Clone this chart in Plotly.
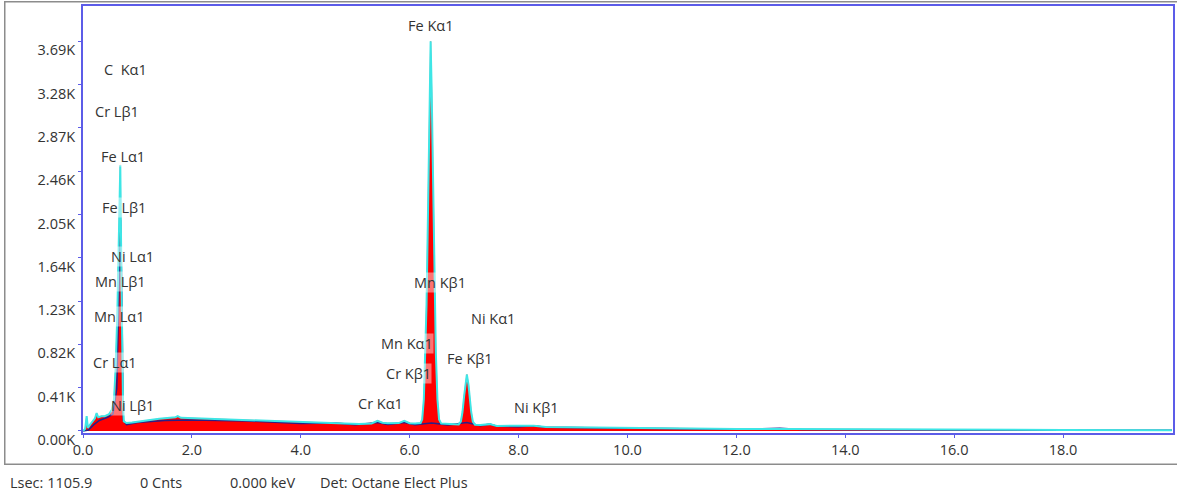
import plotly.graph_objects as go

# ---- spectrum 1 (red fill / cyan outline) ----
energy_keV = [0.00, 0.04, 0.067, 0.09, 0.13, 0.18, 0.22, 0.25, 0.28, 0.34, 0.40, 0.48, 0.53, 0.57,
              0.60, 0.63, 0.655, 0.685, 0.705, 0.72, 0.735, 0.75, 0.80, 0.90, 1.15, 1.40, 1.70,
              1.74, 1.80, 2.07, 2.50, 2.99, 3.50, 4.20, 4.64, 5.07, 5.30, 5.41, 5.50, 5.60, 5.80,
              5.90, 6.00, 6.10, 6.20, 6.23, 6.26, 6.29, 6.31, 6.33, 6.35, 6.365, 6.385, 6.405,
              6.42, 6.44, 6.46, 6.48, 6.51, 6.54, 6.58, 6.70, 6.90, 6.94, 6.97, 7.00, 7.02, 7.05,
              7.08, 7.10, 7.13, 7.16, 7.20, 7.30, 7.47, 7.60, 8.00, 8.28, 8.50, 9.00, 10.0, 11.0,
              12.0, 13.0, 14.0, 16.0, 18.0, 20.0]
counts = [0, 20, 140, 30, 60, 90, 120, 170, 130, 140, 140, 160, 200, 300,
          600, 1100, 1700, 2520, 1500, 700, 250, 90, 75, 80, 100, 115, 130,
          140, 125, 120, 112, 104, 95, 80, 78, 66, 72, 97, 78, 73, 75,
          97, 74, 70, 75, 110, 300, 750, 1200, 1850, 2600, 3200, 3690, 3200,
          2600, 1850, 1200, 750, 300, 110, 70, 66, 62, 90, 180, 330, 440, 535,
          440, 330, 180, 90, 60, 57, 65, 48, 45, 50, 38, 35, 30, 25,
          20, 18, 15, 12, 10, 8]

# ---- spectrum 2 (dark navy line) ----
energy2_keV = [0.0, 0.1, 0.2, 0.3, 0.45, 0.55, 0.62, 0.66, 0.69, 0.71, 0.725, 0.74, 0.80, 1.0,
               1.5, 2.0, 3.0, 4.0, 4.64, 5.0, 5.41, 5.6, 5.9, 6.1, 6.4, 6.7, 7.05, 7.3, 7.47,
               7.6, 8.0, 8.28, 8.5, 9.0, 10.0, 12.0, 12.8, 13.2, 14.0, 16.0, 18.0, 20.0]
counts2 = [0, 10, 60, 100, 130, 160, 400, 1200, 2000, 1400, 500, 100, 60, 80,
           100, 105, 95, 72, 75, 60, 80, 62, 80, 60, 75, 58, 80, 50, 65,
           45, 40, 50, 35, 30, 25, 17, 25, 15, 12, 10, 8, 6]

# ---- line labels ----
line_labels = ["Fe Kα1", "C  Kα1", "Cr Lβ1", "Fe Lα1", "Fe Lβ1", "Ni Lα1", "Mn Lβ1", "Mn Lα1",
               "Cr Lα1", "Ni Lβ1", "Mn Kβ1", "Ni Kα1", "Mn Kα1", "Fe Kβ1", "Cr Kβ1", "Cr Kα1",
               "Ni Kβ1"]
label_x = [6.39, 0.776, 0.629, 0.739, 0.758, 0.905, 0.684, 0.666,
           0.593, 0.905, 6.556, 7.528, 5.95, 7.106, 5.987, 5.455, 8.336]
label_y = [3845, 3419, 3030, 2595, 2121, 1648, 1420, 1089,
           653, 246, 1402, 1061, 824, 691, 540, 265, 227]

# ---- axis ticks ----
y_tickvals = [0, 410, 820, 1230, 1640, 2050, 2460, 2870, 3280, 3690]
y_ticktext = ["0.00K", "0.41K", "0.82K", "1.23K", "1.64K", "2.05K", "2.46K", "2.87K", "3.28K", "3.69K"]
x_tickvals = [0, 2, 4, 6, 8, 10, 12, 14, 16, 18]
x_ticktext = ["0.0", "2.0", "4.0", "6.0", "8.0", "10.0", "12.0", "14.0", "16.0", "18.0"]

# ---- status bar ----
status_items = ["Lsec: 1105.9", "0 Cnts", "0.000 keV", "Det: Octane Elect Plus"]
status_x_px = [8, 138, 228, 318]

FONT = "Open Sans, Noto Sans, sans-serif"
FS = 14.5
TXT = "#333333"
FRAME = "#5c5ce8"

W, H = 1177, 498
ML, MR, MT, MB = 83, 2, 6, 65
PW, PH = W - ML - MR, H - MT - MB


def px_x(px):
    return (px - ML) / PW


def px_y(py):
    return (H - MB - py) / PH


fig = go.Figure()
fig.add_trace(go.Scatter(x=energy_keV, y=counts, mode="lines", fill="tozeroy",
                         fillcolor="#ff0000", line=dict(color="#ff0000", width=0.5),
                         hoverinfo="skip", showlegend=False))
fig.add_trace(go.Scatter(x=energy2_keV, y=counts2, mode="lines",
                         line=dict(color="#2a1f86", width=1.5),
                         hoverinfo="skip", showlegend=False))
fig.add_trace(go.Scatter(x=energy_keV, y=counts, mode="lines",
                         line=dict(color="#3ee6e6", width=2),
                         hoverinfo="skip", showlegend=False))

for t, x, y in zip(line_labels, label_x, label_y):
    fig.add_annotation(x=x, y=y, text=t, showarrow=False, xref="x", yref="y",
                       font=dict(family=FONT, size=FS, color=TXT),
                       bgcolor="rgba(255,255,255,0.45)", borderpad=0)

for t, px in zip(status_items, status_x_px):
    fig.add_annotation(x=px_x(px), y=px_y(483), xref="paper", yref="paper",
                       text=t, showarrow=False, xanchor="left", yanchor="middle",
                       font=dict(family=FONT, size=FS, color=TXT))

# outer gray border (empty annotation box)
fig.add_annotation(x=px_x(4), y=px_y(1), xref="paper", yref="paper", text="",
                   showarrow=False, xanchor="left", yanchor="top",
                   width=1180, height=461, borderpad=0, borderwidth=1.5,
                   bordercolor="#8c8c8c", bgcolor="rgba(0,0,0,0)")

fig.update_layout(
    width=W, height=H,
    margin=dict(l=ML, r=MR, t=MT, b=MB, pad=0),
    paper_bgcolor="white", plot_bgcolor="white",
    font=dict(family=FONT, size=FS, color=TXT),
    showlegend=False,
    xaxis=dict(range=[0, 20.02], tickvals=x_tickvals, ticktext=x_ticktext,
               showgrid=False, zeroline=False, showline=True, mirror=True,
               linecolor=FRAME, linewidth=2, ticks="outside", ticklen=3,
               tickcolor=FRAME, tickfont=dict(family=FONT, size=FS, color=TXT)),
    yaxis=dict(range=[-19, 4025], tickvals=y_tickvals, ticktext=y_ticktext,
               showgrid=False, zeroline=False, showline=True, mirror=True,
               linecolor=FRAME, linewidth=2, ticks="outside", ticklen=3,
               tickcolor=FRAME, ticklabelshift=9,
               tickfont=dict(family=FONT, size=FS, color=TXT)),
)

fig.write_html("out.html", config={"displayModeBar": False},
               post_script="document.body.style.margin='0';document.body.style.overflow='hidden';")
